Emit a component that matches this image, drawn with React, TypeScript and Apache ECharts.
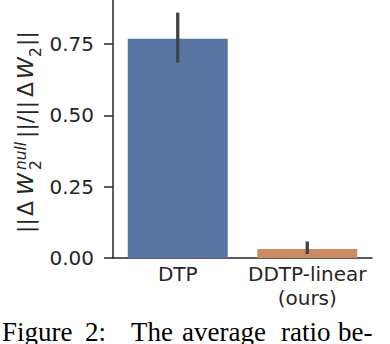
import React, { useEffect, useRef } from "react";
import * as echarts from "echarts";

const categories = ["DTP", "DDTP-linear\n(ours)"];
const means = [0.768, 0.0315];
const errLow = [0.685, 0.014];
const errHigh = [0.86, 0.058];
const barColors = ["#5975a4", "#cc8963"];
const yTicks = [0, 0.25, 0.5, 0.75];
const captionWords = ["Figure", "2:", "The", "average", "ratio", "be-"];
const captionX = [2, 85, 131, 182, 281, 338];

const SANS = "DejaVu Sans";
const SERIF = "Liberation Serif";

export default function App() {
  const ref = useRef<HTMLDivElement>(null);
  useEffect(() => {
    if (!ref.current) return;
    const chart = echarts.init(ref.current, null, { renderer: "svg" });

    const fs = 22;
    const sfs = 15.4;
    const piece = (text: string, x: number, base: number, size: number, italic = false) => ({
      type: "text",
      style: {
        text,
        x,
        y: base - 0.346 * size,
        fontSize: size,
        fontFamily: SANS,
        fontStyle: italic ? "italic" : "normal",
        fill: "#262626",
        align: "left",
        verticalAlign: "middle",
      },
    });

    const yLabel = {
      type: "group",
      x: 33,
      y: 233,
      rotation: Math.PI / 2,
      children: [
        piece("||", 0, 0, fs),
        piece("Δ", 17, 0, fs),
        piece("W", 38, 0, fs, true),
        piece("null", 63, -6.3, sfs, true),
        piece("2", 63, 8.7, sfs),
        piece("||/||", 95, 0, fs),
        piece("Δ", 136, 0, fs),
        piece("W", 154, 0, fs, true),
        piece("2", 176, 8.7, sfs),
        piece("||", 187, 0, fs),
      ],
    };

    const capSize = 27;
    const caption = captionWords.map((w, i) => ({
      type: "text",
      style: {
        text: w,
        x: captionX[i],
        y: 341.5 - 0.3375 * capSize,
        fontSize: capSize,
        fontFamily: SERIF,
        fill: "#000000",
        align: "left",
        verticalAlign: "middle",
      },
    }));

    chart.setOption({
      animation: false,
      grid: { left: 113, right: 18, top: 0, bottom: 86 },
      xAxis: {
        type: "category",
        data: categories,
        axisLine: { show: true, lineStyle: { color: "#262626", width: 1.5 } },
        axisTick: { show: false },
        axisLabel: {
          fontSize: 20,
          fontFamily: SANS,
          color: "#262626",
          margin: 4,
          lineHeight: 24,
          interval: 0,
        },
        splitLine: { show: false },
      },
      yAxis: {
        type: "value",
        min: 0,
        max: 0.904,
        interval: 0.25,
        axisLine: { show: true, lineStyle: { color: "#262626", width: 1.5 } },
        axisTick: {
          show: true,
          length: 9,
          lineStyle: { color: "#262626", width: 1.5 },
          customValues: yTicks,
        },
        axisLabel: {
          fontSize: 20,
          fontFamily: SANS,
          color: "#262626",
          margin: 19,
          customValues: yTicks,
          formatter: (v: number) => v.toFixed(2),
        },
        splitLine: { show: false },
      },
      series: [
        {
          type: "bar",
          barWidth: "77.2%",
          data: means.map((v, i) => ({ value: v, itemStyle: { color: barColors[i] } })),
        },
        {
          type: "custom",
          z: 10,
          encode: { x: 0, y: [1, 2] },
          data: categories.map((_, i) => [i, errLow[i], errHigh[i]]),
          renderItem: (params: any, api: any) => {
            const x = api.value(0);
            const lo = api.coord([x, api.value(1)]);
            const hi = api.coord([x, api.value(2)]);
            return {
              type: "line",
              shape: { x1: lo[0], y1: lo[1], x2: hi[0], y2: hi[1] },
              style: { stroke: "#424242", lineWidth: 3.3 },
            };
          },
        },
      ],
      graphic: [yLabel, ...caption],
    });
    return () => chart.dispose();
  }, []);
  return (
    <div
      ref={ref}
      style={{ position: "fixed", left: 0, top: 0, width: 390, height: 344, background: "#ffffff" }}
    />
  );
}
